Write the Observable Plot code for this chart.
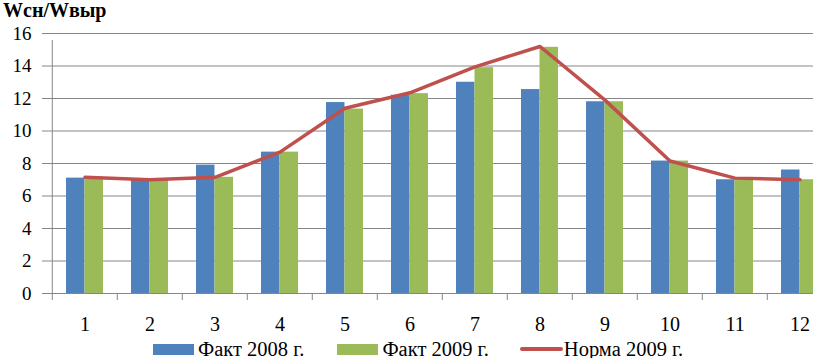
<!DOCTYPE html>
<html>
<head>
<meta charset="utf-8">
<script src="https://cdn.jsdelivr.net/npm/d3@7"></script>
<script src="https://cdn.jsdelivr.net/npm/@observablehq/plot@0.6"></script>
<style>
  html, body { margin: 0; padding: 0; background: white; overflow: hidden; }
  body { width: 813px; height: 358px; font-family: "Liberation Serif", "Times New Roman", serif; color: black; }
  #title { height: 24px; line-height: 20px; font-size: 20px; font-weight: bold; padding-left: 3px; white-space: nowrap; }
  #chart svg { overflow: hidden; }
  #chart svg text { font-family: "Liberation Serif", "Times New Roman", serif; }
  #legend { height: 18px; display: flex; align-items: center; padding-left: 153px; font-size: 20.5px; white-space: nowrap; }
  .sw { width: 41px; height: 11px; margin-right: 4px; }
  .ln { width: 43px; height: 4px; border-radius: 2px; margin-right: 1px; }
  .item { display: flex; align-items: center; }
</style>
</head>
<body>
<div id="title">Wсн/Wвыр</div>
<div id="chart"></div>
<div id="legend"></div>
<script>
const months = ["1","2","3","4","5","6","7","8","9","10","11","12"];
const fact2008 = [7.1, 7.0, 7.9, 8.7, 11.75, 12.2, 13.0, 12.55, 11.8, 8.15, 7.0, 7.6];
const fact2009 = [7.1, 7.0, 7.15, 8.7, 11.35, 12.3, 13.9, 15.15, 11.8, 8.15, 7.0, 7.0];
const norm2009 = [7.15, 7.0, 7.15, 8.7, 11.4, 12.35, 13.95, 15.2, 11.9, 8.15, 7.1, 7.0];
const yTicks = [0, 2, 4, 6, 8, 10, 12, 14, 16];
const seriesNames = ["Факт 2008 г.", "Факт 2009 г.", "Норма 2009 г."];
const colors = ["#4F81BD", "#9BBB59", "#C0504D"];

const W = 813, H = 316, ML = 49, MR = -21, MT = 9, MB = 47;
const PAD = 0.434;
const step = (W - ML - MR) / months.length;
const bw = step * (1 - PAD);

const rows = (vals) => months.map((m, i) => ({month: m, value: vals[i]}));
const d2008 = rows(fact2008), d2009 = rows(fact2009), dNorm = rows(norm2009);

const grid = "#868686";
const serif = "Liberation Serif";

const chart = Plot.plot({
  width: W, height: H,
  marginLeft: ML, marginRight: MR, marginTop: MT, marginBottom: MB,
  style: {fontFamily: "'Liberation Serif', 'Times New Roman', serif", fontSize: "19px", color: "black", background: "white", overflow: "hidden"},
  x: {type: "band", domain: months, paddingInner: PAD, paddingOuter: PAD / 2, align: 0.5, axis: null},
  y: {domain: [0, 16], ticks: yTicks, axis: null},
  marks: [
    Plot.gridY(yTicks, {stroke: grid, strokeOpacity: 1}),
    Plot.barY(d2008, {x: "month", y: "value", fill: colors[0], insetRight: bw / 2}),
    Plot.barY(d2009, {x: "month", y: "value", fill: colors[1], insetLeft: bw / 2}),
    Plot.lineY(dNorm, {x: "month", y: "value", stroke: colors[2], strokeWidth: 3.5, strokeLinejoin: "round"}),
    // category boundary ticks below the axis
    Plot.ruleX(months, {x: d => d, dx: -step / 2, y1: 0, y2: 0, insetBottom: -7, stroke: grid}),
    // vertical value axis line
    Plot.ruleX([months[0]], {x: d => d, dx: -step / 2, y1: 0, y2: 16, insetBottom: -7, stroke: grid}),
    // y ticks (marks) and labels
    Plot.axisY(yTicks, {anchor: "left", tickSize: 7, stroke: grid, fill: "none", label: null}),
    Plot.text(yTicks, {y: d => d, text: d => String(d), frameAnchor: "left", textAnchor: "end", dx: -18, fontSize: 19, fontFamily: serif, fill: "black"}),
    Plot.axisX(months, {anchor: "bottom", tickSize: 0, tickPadding: 23, fill: "black", fontSize: 20, fontFamily: serif, label: null})
  ]
});
document.getElementById("chart").appendChild(chart);

const legend = document.getElementById("legend");
const gaps = [33, 31, 0];
seriesNames.forEach((name, i) => {
  const item = document.createElement("div");
  item.className = "item";
  item.style.marginRight = gaps[i] + "px";
  const sw = document.createElement("div");
  sw.className = i === 2 ? "ln" : "sw";
  sw.style.background = colors[i];
  const t = document.createElement("span");
  t.textContent = name;
  item.appendChild(sw);
  item.appendChild(t);
  legend.appendChild(item);
});
</script>
</body>
</html>
